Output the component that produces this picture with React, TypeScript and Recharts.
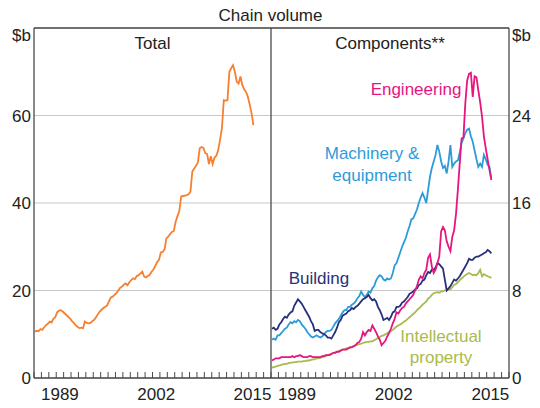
import React from "react";
import { LineChart, Line, XAxis, YAxis, CartesianGrid, ReferenceLine } from "recharts";

// Quarterly data, 1986 Q1 to 2015 Q3 ($b, chain volume)
const firstQuarter = 1986.125;
const quarterStep = 0.25;

const totalInvestment = [
  10.6, 10.8, 10.7, 11.2, 11.0, 11.6, 12.1, 12.4, 12.9, 12.7, 13.6, 13.9,
  15.0, 15.4, 15.5, 15.2, 14.8, 14.4, 14.0, 13.6, 13.0, 12.6, 12.1, 11.7,
  11.4, 11.5, 11.4, 12.9, 12.6, 12.5, 12.6, 13.0, 13.3, 13.9, 14.6, 15.2,
  15.6, 16.0, 16.3, 16.6, 17.5, 18.4, 18.6, 19.0, 19.4, 20.0, 20.6, 20.9,
  21.3, 21.6, 21.2, 21.9, 22.4, 22.8, 22.6, 23.3, 23.5, 23.9, 24.3, 23.2,
  23.0, 23.3, 23.6, 24.3, 24.8, 25.6, 26.5, 27.0, 28.7, 28.8, 29.4, 31.9,
  32.3, 32.9, 33.4, 33.6, 35.7, 37.0, 38.2, 41.5, 41.6, 41.7, 41.8, 42.0,
  42.6, 47.2, 47.9, 48.5, 49.2, 52.5, 52.8, 52.6, 51.4, 51.2, 48.9, 50.7,
  48.9, 50.4, 50.8, 52.1, 54.5, 57.1, 63.5, 63.4, 63.5, 70.0, 70.8, 71.5,
  70.0, 67.7, 67.3, 68.9, 67.0, 66.0, 65.4, 64.3, 62.5, 60.5, 57.8,
];

const engineering = [
  1.6, 1.7, 1.8, 1.8, 1.8, 1.9, 1.9, 1.9, 1.9, 1.9, 1.9, 2.0,
  1.9, 2.0, 2.0, 2.1, 2.0, 1.9, 1.9, 1.9, 2.0, 2.0, 1.9, 1.9,
  1.9, 1.9, 1.9, 2.0, 2.0, 2.1, 2.1, 2.1, 2.2, 2.3, 2.3, 2.4,
  2.4, 2.5, 2.6, 2.6, 2.6, 2.7, 2.8, 2.8, 2.9, 3.0, 3.2, 3.3,
  3.6, 4.2, 3.9, 4.2, 4.4, 4.3, 4.8, 4.5, 4.2, 3.8, 3.5, 3.0,
  3.2, 3.4, 3.8, 4.1, 4.5, 5.0, 5.4, 6.0, 5.9, 6.2, 6.4, 6.5,
  6.8, 7.0, 7.2, 7.4, 7.6, 8.0, 8.4, 9.0, 9.3, 9.1, 9.6, 9.9,
  11.0, 11.3, 10.2, 9.6, 9.9, 10.5, 11.1, 13.4, 13.8, 13.5, 12.5, 12.0,
  11.6, 12.9, 13.5, 15.0, 17.2, 19.6, 21.9, 22.0, 25.1, 27.2, 27.8, 27.9,
  25.7, 27.6, 27.5, 26.3, 25.2, 23.9, 22.1, 21.0, 20.0, 19.0, 18.1,
];

const machinery = [
  3.5, 3.6, 3.5, 3.9, 3.9, 4.1, 4.3, 4.5, 4.6, 4.9, 5.1, 5.0,
  5.2, 5.1, 5.3, 5.2, 4.9, 4.7, 4.5, 4.2, 4.0, 3.8, 3.7, 3.8,
  3.9, 3.8, 3.7, 3.8, 4.0, 4.2, 4.3, 4.3, 4.4, 4.7, 5.0, 5.2,
  5.4, 5.7, 6.0, 6.2, 6.2, 6.5, 6.5, 6.7, 6.8, 7.0, 7.3, 7.5,
  7.9, 7.6, 7.4, 7.6, 7.9, 7.8, 8.2, 8.4, 8.9, 9.2, 9.4, 9.3,
  9.0, 8.9, 9.1, 9.0, 9.1, 9.6, 10.3, 10.5, 11.0, 11.5, 12.0, 12.4,
  12.8, 13.4, 13.9, 14.5, 14.6, 15.0, 15.4, 16.0, 16.5, 16.9, 16.5, 16.0,
  17.2, 18.4, 19.2, 19.8, 20.4, 21.3, 20.7, 19.8, 19.2, 19.4, 18.7, 19.8,
  21.3, 19.3, 19.6, 19.8, 19.9, 20.6, 21.5, 21.9, 22.4, 22.7, 22.8, 22.1,
  21.6, 20.8, 20.0, 19.3, 19.6, 19.3, 20.4, 20.0, 19.5, 19.3, 18.3,
];

const building = [
  4.5, 4.6, 4.4, 4.5, 4.9, 5.1, 5.4, 5.6, 5.5, 5.8, 6.0, 6.1,
  6.6, 6.9, 7.2, 7.0, 6.8, 6.5, 6.2, 5.9, 5.6, 5.2, 4.9, 4.3,
  4.4, 4.4, 4.2, 4.1, 4.0, 3.9, 3.7, 3.7, 3.6, 3.9, 4.2, 4.6,
  5.1, 5.3, 5.7, 5.8, 5.9, 6.1, 6.2, 6.4, 6.3, 6.5, 6.6, 6.8,
  7.0, 7.2, 7.3, 7.4, 7.6, 7.3, 7.1, 7.2, 7.0, 6.5, 6.2, 5.8,
  5.3, 5.4, 5.5, 5.3, 5.6, 6.0, 6.1, 6.5, 6.5, 6.6, 6.9, 7.0,
  7.2, 7.4, 7.7, 7.8, 7.9, 8.1, 8.2, 8.5, 8.6, 8.9, 9.0, 9.4,
  9.7, 9.6, 9.9, 9.9, 10.1, 10.5, 10.4, 10.2, 10.0, 9.0, 8.0, 8.2,
  8.4, 8.7, 9.0, 8.9, 9.1, 9.3, 9.6, 9.9, 10.2, 10.5, 10.9, 10.8,
  10.8, 11.0, 11.1, 11.1, 11.2, 11.3, 11.4, 11.5, 11.7, 11.6, 11.4,
];

const intellectualProperty = [
  0.95, 1.0, 1.05, 1.1, 1.15, 1.2, 1.25, 1.3, 1.3, 1.35, 1.4, 1.4,
  1.45, 1.45, 1.5, 1.5, 1.5, 1.55, 1.55, 1.6, 1.6, 1.65, 1.7, 1.7,
  1.8, 1.8, 1.85, 1.9, 1.95, 2.0, 2.1, 2.15, 2.2, 2.3, 2.35, 2.4,
  2.45, 2.55, 2.6, 2.65, 2.7, 2.75, 2.8, 2.85, 2.95, 3.0, 3.05, 3.1,
  3.15, 3.2, 3.25, 3.3, 3.3, 3.35, 3.35, 3.45, 3.55, 3.65, 3.75, 3.85,
  3.9, 4.0, 4.1, 4.2, 4.3, 4.4, 4.55, 4.7, 4.8, 4.9, 5.0, 5.15,
  5.25, 5.4, 5.55, 5.7, 5.85, 6.0, 6.2, 6.35, 6.5, 6.7, 6.85, 7.0,
  7.25, 7.4, 7.6, 7.75, 7.8, 7.85, 7.8, 7.9, 7.95, 8.0, 8.05, 8.1,
  8.1, 8.3, 8.5, 8.6, 8.75, 8.95, 9.1, 9.25, 9.4, 9.5, 9.6, 9.5,
  9.4, 9.45, 9.4, 9.6, 9.9, 9.3, 9.5, 9.4, 9.3, 9.25, 9.15,
];

const yearTicks = [
  1986, 1987, 1988, 1989, 1990, 1991, 1992, 1993, 1994, 1995, 1996,
  1997, 1998, 1999, 2000, 2001, 2002, 2003, 2004, 2005, 2006, 2007,
  2008, 2009, 2010, 2011, 2012, 2013, 2014, 2015, 2016, 2017, 2018,
];
const labelYears = [1989, 2002, 2015];
const leftTicks = [0, 20, 40, 60, 80];
const rightTicks = [0, 8, 16, 24, 32];

const rows = totalInvestment.map((v, i) => ({
  t: firstQuarter + i * quarterStep,
  total: v,
  eng: engineering[i],
  mach: machinery[i],
  bld: building[i],
  ip: intellectualProperty[i],
}));

const FONT = "Arial, 'Liberation Sans', Helvetica, sans-serif";
const FS = 17;
const TEXT = "#222";
const FRAME = "#4a4a4a";
const GRID = "#c8c8c8";
const C_TOTAL = "#F5802F";
const C_ENG = "#E6157F";
const C_MACH = "#2E9BD9";
const C_BLD = "#27307A";
const C_IP = "#A9BB4C";
const LW = 1.8;

const makeXTick = (halfYear: number) => (props: any) => {
  const { x, y, payload } = props;
  const v = payload.value;
  return (
    <g>
      <line x1={x} x2={x} y1={y} y2={y - 6} stroke={FRAME} strokeWidth={1} />
      {labelYears.includes(v) && (
        <text x={x + halfYear} y={y + 22} textAnchor="middle" fontSize={FS} fontFamily={FONT} fill={TEXT}>
          {v}
        </text>
      )}
    </g>
  );
};

const makeYTick = (anchor: "start" | "end", topValue: number) => (props: any) => {
  const { x, y, payload } = props;
  const v = payload.value;
  return (
    <text x={x} y={v === topValue ? y + 7 : y} dy="0.36em" textAnchor={anchor} fontSize={FS} fontFamily={FONT} fill={TEXT}>
      {v === topValue ? "$b" : v}
    </text>
  );
};

export default function App() {
  return (
    <div style={{ position: "absolute", left: 0, top: 0, width: 540, height: 408, background: "#fff" }}>
      <div style={{ position: "absolute", left: 0, top: 0 }}>
        <LineChart width={271} height={408} data={rows} margin={{ top: 28, right: 0, bottom: 0, left: 0 }}>
          <CartesianGrid horizontal vertical={false} stroke={GRID} strokeWidth={1} />
          <XAxis
            type="number"
            dataKey="t"
            domain={[1986, 2018]}
            ticks={yearTicks}
            interval={0}
            height={30}
            tickSize={0}
            tickMargin={0}
            tickLine={false}
            axisLine={{ stroke: FRAME, strokeWidth: 1.3 }}
            tick={makeXTick(3.7)}
            allowDataOverflow
          />
          <YAxis
            domain={[0, 80]}
            ticks={leftTicks}
            interval={0}
            width={34}
            tickSize={0}
            tickMargin={3}
            tickLine={false}
            axisLine={{ stroke: FRAME, strokeWidth: 1.3 }}
            tick={makeYTick("end", 80)}
            allowDataOverflow
          />
          <ReferenceLine y={80} stroke={FRAME} strokeWidth={1.3} />
          <ReferenceLine x={2018} stroke={FRAME} strokeWidth={1.3} />
          <Line type="linear" dataKey="total" stroke={C_TOTAL} strokeWidth={LW} dot={false} isAnimationActive={false} />
        </LineChart>
      </div>
      <div style={{ position: "absolute", left: 271, top: 0 }}>
        <LineChart width={269} height={408} data={rows} margin={{ top: 28, right: 0, bottom: 0, left: 0 }}>
          <CartesianGrid horizontal vertical={false} stroke={GRID} strokeWidth={1} />
          <XAxis
            type="number"
            dataKey="t"
            domain={[1986, 2018]}
            ticks={yearTicks}
            interval={0}
            height={30}
            tickSize={0}
            tickMargin={0}
            tickLine={false}
            axisLine={{ stroke: FRAME, strokeWidth: 1.3 }}
            tick={makeXTick(3.72)}
            allowDataOverflow
          />
          <YAxis
            orientation="right"
            domain={[0, 32]}
            ticks={rightTicks}
            interval={0}
            width={31}
            tickSize={0}
            tickMargin={3}
            tickLine={false}
            axisLine={{ stroke: FRAME, strokeWidth: 1.3 }}
            tick={makeYTick("start", 32)}
            allowDataOverflow
          />
          <ReferenceLine y={32} stroke={FRAME} strokeWidth={1.3} />
          <ReferenceLine x={1986} stroke={FRAME} strokeWidth={1.3} />
          <Line type="linear" dataKey="ip" stroke={C_IP} strokeWidth={LW} dot={false} isAnimationActive={false} />
          <Line type="linear" dataKey="mach" stroke={C_MACH} strokeWidth={LW} dot={false} isAnimationActive={false} />
          <Line type="linear" dataKey="bld" stroke={C_BLD} strokeWidth={LW} dot={false} isAnimationActive={false} />
          <Line type="linear" dataKey="eng" stroke={C_ENG} strokeWidth={LW} dot={false} isAnimationActive={false} />
        </LineChart>
      </div>
      <svg width={540} height={408} style={{ position: "absolute", left: 0, top: 0, pointerEvents: "none" }}>
        <g fontFamily={FONT} fontSize={FS} textAnchor="middle">
          <text x={270.5} y={21} fill={TEXT}>Chain volume</text>
          <text x={152.5} y={49} fill={TEXT}>Total</text>
          <text x={390} y={49} fill={TEXT}>Components**</text>
          <text x={416} y={95} fill={C_ENG}>Engineering</text>
          <text x={372} y={159} fill={C_MACH}>Machinery &amp;</text>
          <text x={372} y={181} fill={C_MACH}>equipment</text>
          <text x={319} y={284} fill={C_BLD}>Building</text>
          <text x={441} y={342} fill={C_IP}>Intellectual</text>
          <text x={441} y={363} fill={C_IP}>property</text>
        </g>
      </svg>
    </div>
  );
}
